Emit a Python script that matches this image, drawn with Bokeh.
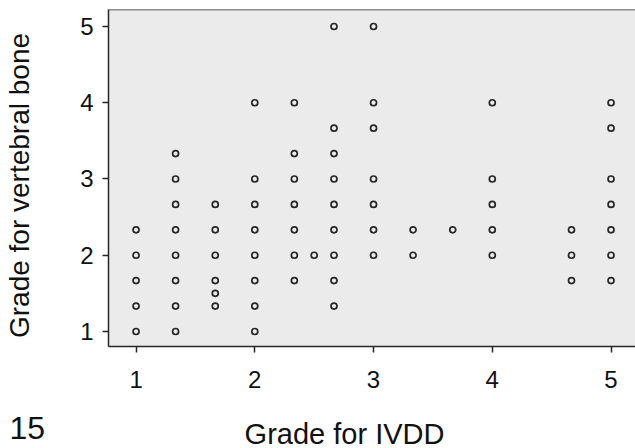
import math
from bokeh.plotting import figure
from bokeh.models import Range1d, FixedTicker, Span, Label
from bokeh.embed import file_html
from bokeh.resources import INLINE

bone_at_1_00 = [1.0, 1.333, 1.667, 2.0, 2.333]
bone_at_1_33 = [1.0, 1.333, 1.667, 2.0, 2.333, 2.667, 3.0, 3.333]
bone_at_1_67 = [1.333, 1.5, 1.667, 2.0, 2.333, 2.667]
bone_at_2_00 = [1.0, 1.333, 1.667, 2.0, 2.333, 2.667, 3.0, 4.0]
bone_at_2_33 = [1.667, 2.0, 2.333, 2.667, 3.0, 3.333, 4.0]
bone_at_2_50 = [2.0]
bone_at_2_67 = [1.333, 1.667, 2.0, 2.333, 2.667, 3.0, 3.333, 3.667, 5.0]
bone_at_3_00 = [2.0, 2.333, 2.667, 3.0, 3.667, 4.0, 5.0]
bone_at_3_33 = [2.0, 2.333]
bone_at_3_67 = [2.333]
bone_at_4_00 = [2.0, 2.333, 2.667, 3.0, 4.0]
bone_at_4_67 = [1.667, 2.0, 2.333]
bone_at_5_00 = [1.667, 2.0, 2.333, 2.667, 3.0, 3.667, 4.0]

ivdd_levels = [1.0, 1.333, 1.667, 2.0, 2.333, 2.5, 2.667, 3.0, 3.333, 3.667, 4.0, 4.667, 5.0]
bone_columns = [bone_at_1_00, bone_at_1_33, bone_at_1_67, bone_at_2_00, bone_at_2_33,
                bone_at_2_50, bone_at_2_67, bone_at_3_00, bone_at_3_33, bone_at_3_67,
                bone_at_4_00, bone_at_4_67, bone_at_5_00]

x_ticks = [1, 2, 3, 4, 5]
y_ticks = [1, 2, 3, 4, 5]
x_title = "Grade for IVDD"
y_title = "Grade for vertebral bone"
panel_tag = "15"

xs, ys = [], []
for lvl, col in zip(ivdd_levels, bone_columns):
    for v in col:
        xs.append(lvl)
        ys.append(v)

FONT = "Liberation Sans"
INK = "#262626"
TXT = "#111111"
Y_TOP = 5.223

p = figure(width=635, height=448, output_backend="svg", toolbar_location=None,
           x_range=Range1d(0.768, 5.206), y_range=Range1d(0.803, Y_TOP),
           min_border_left=108, min_border_right=0, min_border_top=9, min_border_bottom=102)

p.background_fill_color = "#ebebeb"
p.border_fill_color = "white"
p.outline_line_color = None
p.xgrid.visible = False
p.ygrid.visible = False

p.scatter(xs, ys, marker="circle", size=6, fill_color=None, line_color=INK, line_width=1.7)

for ax, ticks in ((p.xaxis, x_ticks), (p.yaxis, y_ticks)):
    ax.ticker = FixedTicker(ticks=ticks)
    ax.axis_line_color = INK
    ax.axis_line_width = 1.5
    ax.major_tick_line_color = INK
    ax.major_tick_line_width = 1.5
    ax.major_tick_out = 6
    ax.major_tick_in = 0
    ax.minor_tick_line_color = None
    ax.major_label_text_font = FONT
    ax.major_label_text_font_size = "24px"
    ax.major_label_text_color = TXT

p.xaxis.major_label_standoff = 18
p.yaxis.major_label_standoff = 9

p.add_layout(Span(location=Y_TOP, dimension="width", line_color=INK, line_width=1.5))

# titles as labels in the side panels (not clipped to the frame)
p.add_layout(Label(x=-27, y=161, x_units="screen", y_units="screen", text=y_title,
                   angle=math.pi / 2, text_align="center", text_baseline="alphabetic",
                   text_font=FONT, text_font_size="28px", text_color=TXT), "left")
p.add_layout(Label(x=-1, y=-81, x_units="screen", y_units="screen", text=panel_tag,
                   text_align="left", text_baseline="alphabetic",
                   text_font=FONT, text_font_size="32px", text_color=TXT), "left")
p.add_layout(Label(x=236, y=-11, x_units="screen", y_units="screen", text=x_title,
                   text_align="center", text_baseline="alphabetic",
                   text_font=FONT, text_font_size="29px", text_color=TXT), "below")

open("out.html", "w").write(file_html(p, INLINE))
